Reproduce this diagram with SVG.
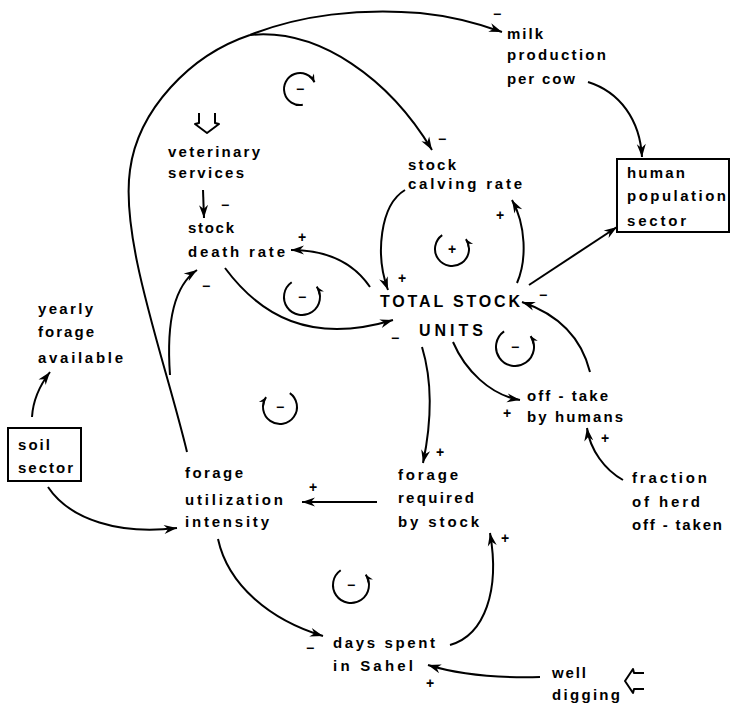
<svg xmlns="http://www.w3.org/2000/svg" width="730" height="705" viewBox="0 0 730 705">
  <defs>
    <marker id="ah" viewBox="-14 -6 15 12" refX="0" refY="0" markerWidth="15" markerHeight="12" markerUnits="userSpaceOnUse" orient="auto">
      <path d="M0,0 L-13,-4.5 L-9,0 L-13,4.5 Z" fill="#000"/>
    </marker>
    <marker id="ahs" viewBox="-9 -4 10 8" refX="0" refY="0" markerWidth="10" markerHeight="8" markerUnits="userSpaceOnUse" orient="auto">
      <path d="M0,0 L-8,-3.2 L-5.5,0 L-8,3.2 Z" fill="#000"/>
    </marker>
    <style>
      .lbl { font-family: "Liberation Sans", Arial, sans-serif; font-weight: bold; font-size: 15px; fill: #000; }
      .cap { font-family: "Liberation Sans", Arial, sans-serif; font-weight: bold; font-size: 16px; fill: #000; }
      .sign { font-family: "Liberation Sans", Arial, sans-serif; font-weight: bold; font-size: 14px; fill: #000; text-anchor: middle; }
      .link { fill: none; stroke: #000; stroke-width: 2; marker-end: url(#ah); }
      .line { fill: none; stroke: #000; stroke-width: 2; }
      .loop { fill: none; stroke: #000; stroke-width: 2; marker-end: url(#ahs); }
      .box { fill: none; stroke: #000; stroke-width: 2; }
      .sym { fill: none; stroke: #000; stroke-width: 2; stroke-linejoin: round; }
    </style>
  </defs>
  <rect width="730" height="705" fill="#fff"/>

  <!-- causal links -->
  <g id="connectors">
    <!-- long link from forage utilization intensity over the top -->
    <path class="line" d="M187,452 C165,360 120,240 130,170 C138,110 190,55 250,35"/>
    <path class="link" d="M250,35 C300,15 360,8 420,13 C450,16 480,24 502,32"/>
    <path class="link" d="M250,35 C320,28 390,80 432,150"/>
    <path class="link" d="M588,82 C620,92 640,120 642,157"/>
    <path class="link" d="M529,285 L617,227"/>
    <path class="link" d="M405,190 C380,205 375,255 388,290"/>
    <path class="link" d="M517,283 C527,260 526,225 512,200"/>
    <path class="link" d="M370,287 C355,265 330,250 291,250"/>
    <path class="link" d="M225,268 C260,315 310,345 393,320"/>
    <path class="link" d="M203,190 L204,218"/>
    <path class="link" d="M170,375 C166,320 175,285 197,270"/>
    <path class="link" d="M422,347 C432,380 432,420 423,463"/>
    <path class="link" d="M453,342 C465,370 490,395 520,400"/>
    <path class="link" d="M590,372 C582,340 560,315 522,302"/>
    <path class="link" d="M623,480 C605,470 590,450 587,428"/>
    <path class="link" d="M377,502 L302,502"/>
    <path class="link" d="M48,487 C70,520 120,535 177,528"/>
    <path class="link" d="M32,417 C33,400 40,385 50,372"/>
    <path class="link" d="M218,539 C228,585 270,620 323,636"/>
    <path class="link" d="M450,645 C485,635 500,590 490,533"/>
    <path class="link" d="M540,677 C500,678 460,675 428,665"/>

    <!-- link polarities -->
    <text class="sign" x="497" y="19">−</text>
    <text class="sign" x="442" y="144">−</text>
    <text class="sign" x="500" y="220">+</text>
    <text class="sign" x="402" y="283">+</text>
    <text class="sign" x="302" y="242">+</text>
    <text class="sign" x="225" y="210">−</text>
    <text class="sign" x="206" y="291">−</text>
    <text class="sign" x="543" y="300">−</text>
    <text class="sign" x="395" y="343">−</text>
    <text class="sign" x="507" y="418">+</text>
    <text class="sign" x="605" y="443">+</text>
    <text class="sign" x="440" y="457">+</text>
    <text class="sign" x="313" y="492">+</text>
    <text class="sign" x="310" y="653">−</text>
    <text class="sign" x="505" y="543">+</text>
    <text class="sign" x="430" y="688">+</text>
  </g>

  <!-- feedback loop markers -->
  <g id="loops">
    <path class="loop" d="M302.8,104.8 A16,16 0 1 1 314.5,82.2"/>
    <text class="sign" x="300" y="94">−</text>
    <path class="loop" d="M442.2,235.1 A17,17 0 1 0 465.9,239.2"/>
    <text class="sign" x="452" y="254">+</text>
    <path class="loop" d="M291.7,282.3 A18,18 0 1 0 316.7,286.7"/>
    <text class="sign" x="302" y="302">−</text>
    <path class="loop" d="M504.1,331.4 A19,19 0 1 0 530.6,336.1"/>
    <text class="sign" x="515" y="352">−</text>
    <path class="loop" d="M289.8,393.1 A17,17 0 1 1 266.1,397.2"/>
    <text class="sign" x="280" y="412">−</text>
    <path class="loop" d="M340.7,570.3 A18,18 0 1 0 365.7,574.7"/>
    <text class="sign" x="351" y="590">−</text>
  </g>

  <!-- variables -->
  <g id="milk-production">
    <text class="lbl" x="507" y="39" textLength="36">milk</text>
    <text class="lbl" x="507" y="60" textLength="99">production</text>
    <text class="lbl" x="507" y="84" textLength="68">per cow</text>
  </g>
  <g id="human-population-sector">
    <rect class="box" x="617" y="159" width="112" height="73"/>
    <text class="lbl" x="627" y="178" textLength="58">human</text>
    <text class="lbl" x="627" y="201" textLength="99">population</text>
    <text class="lbl" x="627" y="226" textLength="59">sector</text>
  </g>
  <g id="veterinary-services">
    <path class="sym" d="M199,113 V123 L195,124 L207,133 L219,124 L215,123 V113"/>
    <text class="lbl" x="168" y="157" textLength="92">veterinary</text>
    <text class="lbl" x="168" y="178" textLength="76">services</text>
  </g>
  <g id="stock-death-rate">
    <text class="lbl" x="188" y="233" textLength="46">stock</text>
    <text class="lbl" x="188" y="257" textLength="97">death rate</text>
  </g>
  <g id="stock-calving-rate">
    <text class="lbl" x="408" y="170" textLength="48">stock</text>
    <text class="lbl" x="408" y="189" textLength="114">calving rate</text>
  </g>
  <g id="total-stock-units">
    <text class="cap" x="380" y="307" textLength="140">TOTAL STOCK</text>
    <text class="cap" x="419" y="336" textLength="64">UNITS</text>
  </g>
  <g id="off-take">
    <text class="lbl" x="527" y="401" textLength="81">off - take</text>
    <text class="lbl" x="527" y="422" textLength="96">by humans</text>
  </g>
  <g id="fraction-off-taken">
    <text class="lbl" x="632" y="483" textLength="75">fraction</text>
    <text class="lbl" x="632" y="507" textLength="68">of herd</text>
    <text class="lbl" x="632" y="530" textLength="90">off - taken</text>
  </g>
  <g id="forage-required">
    <text class="lbl" x="398" y="480" textLength="60">forage</text>
    <text class="lbl" x="398" y="503" textLength="76">required</text>
    <text class="lbl" x="398" y="527" textLength="81">by stock</text>
  </g>
  <g id="forage-utilization">
    <text class="lbl" x="185" y="478" textLength="58">forage</text>
    <text class="lbl" x="185" y="505" textLength="98">utilization</text>
    <text class="lbl" x="185" y="527" textLength="84">intensity</text>
  </g>
  <g id="soil-sector">
    <rect class="box" x="8" y="428" width="73" height="53"/>
    <text class="lbl" x="18" y="450" textLength="32">soil</text>
    <text class="lbl" x="18" y="473" textLength="55">sector</text>
  </g>
  <g id="yearly-forage">
    <text class="lbl" x="38" y="314" textLength="55">yearly</text>
    <text class="lbl" x="38" y="337" textLength="56">forage</text>
    <text class="lbl" x="38" y="363" textLength="85">available</text>
  </g>
  <g id="days-in-sahel">
    <text class="lbl" x="333" y="648" textLength="102">days spent</text>
    <text class="lbl" x="333" y="671" textLength="80">in Sahel</text>
  </g>
  <g id="well-digging">
    <text class="lbl" x="552" y="678" textLength="34">well</text>
    <text class="lbl" x="552" y="700" textLength="68">digging</text>
    <path class="sym" d="M644,673 H634 L633,669 L625,681 L633,693 L634,689 H644"/>
  </g>
</svg>
